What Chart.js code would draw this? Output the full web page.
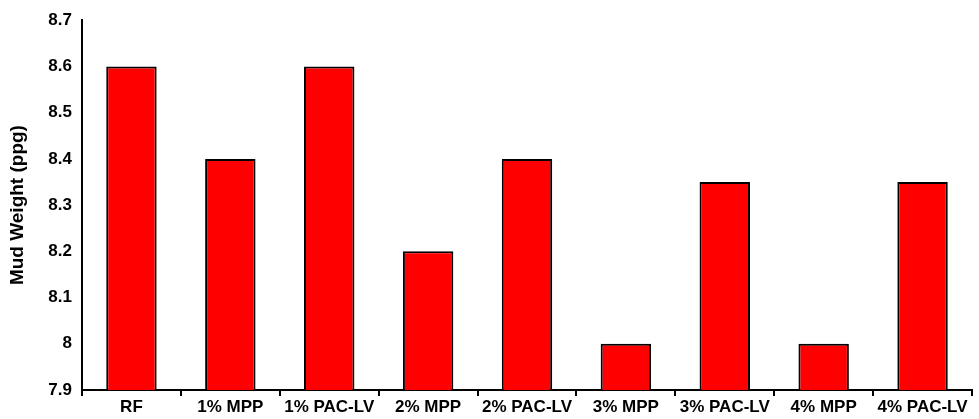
<!DOCTYPE html>
<html>
<head>
<meta charset="utf-8">
<script src="https://cdn.jsdelivr.net/npm/chart.js@4"></script>
<style>
  html, body { margin: 0; padding: 0; background: #fff; }
  #wrap { width: 979px; height: 419px; }
</style>
</head>
<body>
<div id="wrap"><canvas id="grafico" width="979" height="419"></canvas></div>
<script>
// Datos del gráfico
const categorias = ['RF', '1% MPP', '1% PAC-LV', '2% MPP', '2% PAC-LV', '3% MPP', '3% PAC-LV', '4% MPP', '4% PAC-LV'];
const pesoLodo = [8.6, 8.4, 8.6, 8.2, 8.4, 8.0, 8.35, 8.0, 8.35];
const yMin = 7.9;
const yMax = 8.7;
const yPaso = 0.1;

const fuente = { family: 'Liberation Sans, Arial, sans-serif', weight: 'bold' };

const ctx = document.getElementById('grafico').getContext('2d');
new Chart(ctx, {
    type: 'bar',
    data: {
        labels: categorias,
        datasets: [{
            label: 'Mud Weight (ppg)',
            data: pesoLodo,
            backgroundColor: '#ff0000',
            borderColor: '#000000',
            borderWidth: 2,
            borderSkipped: false,
            barPercentage: 0.51,
            categoryPercentage: 1.0
        }]
    },
    options: {
        responsive: false,
        animation: false,
        layout: { padding: { top: 10, right: 7, left: 0, bottom: 0 } },
        plugins: {
            legend: { display: false },
            tooltip: { enabled: false }
        },
        scales: {
            x: {
                grid: {
                    display: true,
                    offset: true,
                    drawOnChartArea: false,
                    drawTicks: true,
                    tickLength: 6,
                    color: '#000',
                    lineWidth: 2
                },
                border: { display: true, color: '#000', width: 2 },
                ticks: {
                    color: '#000',
                    font: { ...fuente, size: 17 },
                    padding: 1,
                    maxRotation: 0,
                    autoSkip: false
                },
                afterFit: (scale) => { scale.height = 29; }
            },
            y: {
                min: yMin,
                max: yMax,
                grid: { display: false, drawTicks: false },
                border: { display: true, color: '#000', width: 2 },
                ticks: {
                    stepSize: yPaso,
                    color: '#000',
                    font: { ...fuente, size: 17 },
                    padding: 10,
                    callback: (v) => parseFloat(v.toFixed(1)).toString()
                },
                title: {
                    display: true,
                    text: 'Mud Weight (ppg)',
                    color: '#000',
                    font: { ...fuente, size: 19 },
                    padding: { top: 6, bottom: 0 }
                },
                afterFit: (scale) => { scale.width = 82; }
            }
        }
    }
});
</script>
</body>
</html>
